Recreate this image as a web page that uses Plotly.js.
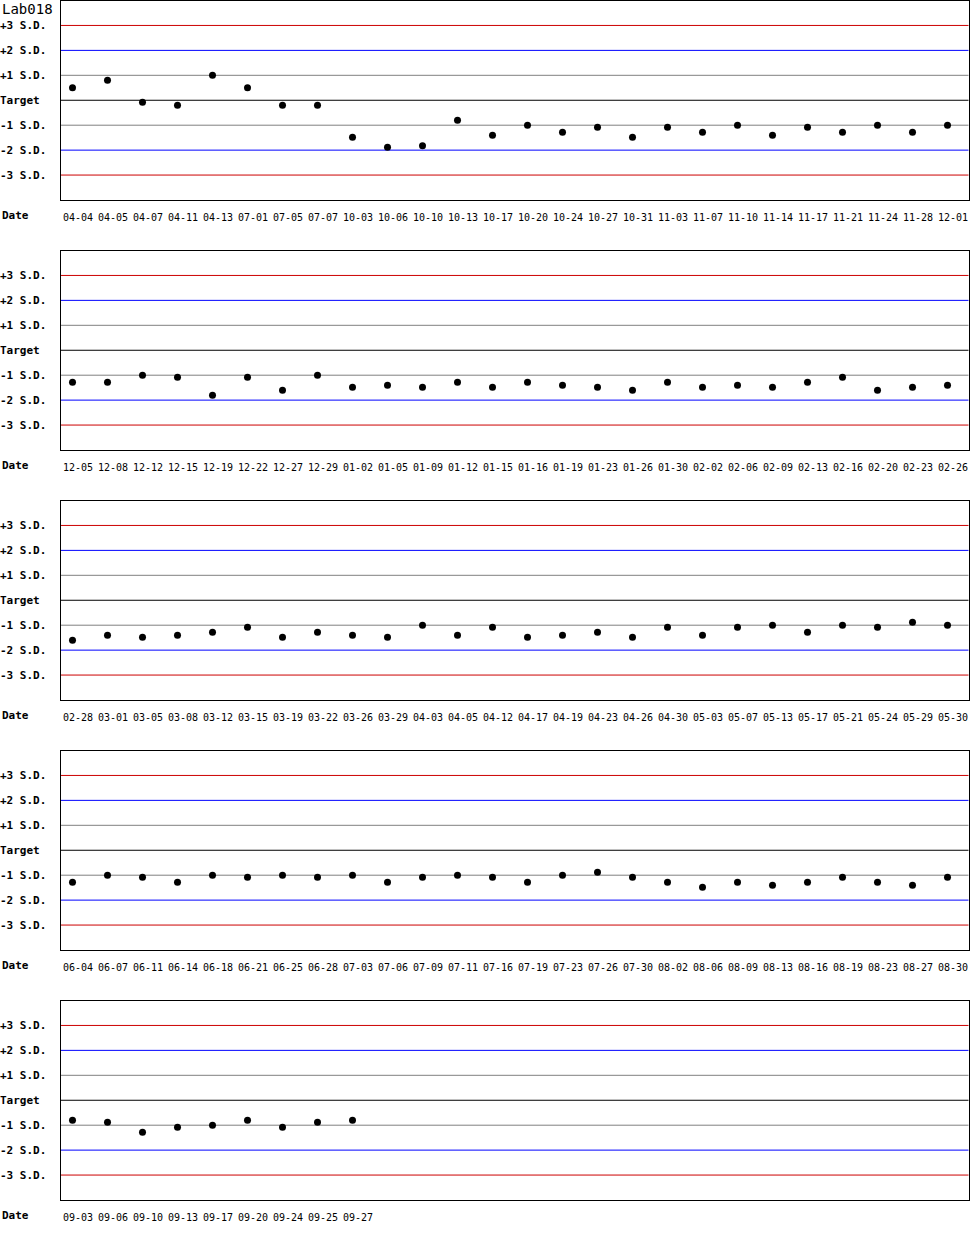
<!DOCTYPE html>
<html>
<head>
<meta charset="utf-8">
<script src="https://cdn.plot.ly/plotly-3.0.1.min.js"></script>
<style>
  body { margin: 0; background: #fff; }
  #chart { width: 970px; height: 1250px; }
</style>
</head>
<body>
<div id="chart"></div>
<script>
// values, in S.D. units from target
let p1Dates = ['04-04','04-05','04-07','04-11','04-13','07-01','07-05','07-07','10-03','10-06','10-10','10-13','10-17','10-20','10-24','10-27','10-31','11-03','11-07','11-10','11-14','11-17','11-21','11-24','11-28','12-01'];
let p1Values = [0.5, 0.8, -0.08, -0.2, 1.0, 0.5, -0.2, -0.2, -1.48, -1.88, -1.82, -0.8, -1.4, -1.0, -1.28, -1.08, -1.48, -1.08, -1.28, -1.0, -1.4, -1.08, -1.28, -1.0, -1.28, -1.0];

let p2Dates = ['12-05','12-08','12-12','12-15','12-19','12-22','12-27','12-29','01-02','01-05','01-09','01-12','01-15','01-16','01-19','01-23','01-26','01-30','02-02','02-06','02-09','02-13','02-16','02-20','02-23','02-26'];
let p2Values = [-1.28, -1.28, -1.0, -1.08, -1.8, -1.08, -1.6, -1.0, -1.48, -1.4, -1.48, -1.28, -1.48, -1.28, -1.4, -1.48, -1.6, -1.28, -1.48, -1.4, -1.48, -1.28, -1.08, -1.6, -1.48, -1.4];

let p3Dates = ['02-28','03-01','03-05','03-08','03-12','03-15','03-19','03-22','03-26','03-29','04-03','04-05','04-12','04-17','04-19','04-23','04-26','04-30','05-03','05-07','05-13','05-17','05-21','05-24','05-29','05-30'];
let p3Values = [-1.6, -1.4, -1.48, -1.4, -1.28, -1.08, -1.48, -1.28, -1.4, -1.48, -1.0, -1.4, -1.08, -1.48, -1.4, -1.28, -1.48, -1.08, -1.4, -1.08, -1.0, -1.28, -1.0, -1.08, -0.88, -1.0];

let p4Dates = ['06-04','06-07','06-11','06-14','06-18','06-21','06-25','06-28','07-03','07-06','07-09','07-11','07-16','07-19','07-23','07-26','07-30','08-02','08-06','08-09','08-13','08-16','08-19','08-23','08-27','08-30'];
let p4Values = [-1.28, -1.0, -1.08, -1.28, -1.0, -1.08, -1.0, -1.08, -1.0, -1.28, -1.08, -1.0, -1.08, -1.28, -1.0, -0.88, -1.08, -1.28, -1.48, -1.28, -1.4, -1.28, -1.08, -1.28, -1.4, -1.08];

let p5Dates = ['09-03','09-06','09-10','09-13','09-17','09-20','09-24','09-25','09-27'];
let p5Values = [-0.8, -0.88, -1.28, -1.08, -1.0, -0.8, -1.08, -0.88, -0.8];

let sdLevels = [3, 2, 1, 0, -1, -2, -3];
let sdLabels = ['+3 S.D.', '+2 S.D.', '+1 S.D.', 'Target\u00a0', '-1 S.D.', '-2 S.D.', '-3 S.D.'];
let sdColors = ['#cc0000', '#0000ff', '#808080', '#000000', '#808080', '#0000ff', '#cc0000'];

let chartTitle = 'Lab018';

let panels = [
  {dates: p1Dates, values: p1Values},
  {dates: p2Dates, values: p2Values},
  {dates: p3Dates, values: p3Values},
  {dates: p4Dates, values: p4Values},
  {dates: p5Dates, values: p5Values}
];

const mono = 'DejaVu Sans Mono, Liberation Mono, monospace';
const W = 970, H = 1250;

let data = [];
let layout = {
  width: W,
  height: H,
  margin: {l: 0, r: 0, t: 0, b: 0},
  paper_bgcolor: '#fff',
  plot_bgcolor: '#fff',
  showlegend: false,
  shapes: [],
  annotations: [{
    text: chartTitle,
    xref: 'paper', yref: 'paper', x: 0, y: 1,
    xanchor: 'left', yanchor: 'top', yshift: 1,
    showarrow: false,
    font: {family: mono, size: 14, color: '#000'}
  }]
};

panels.forEach(function (p, k) {
  let n = k + 1;
  let xName = 'x' + (n > 1 ? n : '');
  let yName = 'y' + (n > 1 ? n : '');
  let idx = p.dates.map((d, i) => i);

  data.push({
    x: idx,
    y: p.values,
    xaxis: xName,
    yaxis: yName,
    type: 'scatter',
    mode: 'markers',
    marker: {color: '#000', size: 7},
    hoverinfo: 'skip'
  });

  let top = 250 * k, bottom = 250 * k + 200;

  layout['xaxis' + (n > 1 ? n : '')] = {
    domain: [60.5 / W, 968.5 / W],
    anchor: yName,
    range: [-12 / 35, 896 / 35],
    tickvals: idx.map(i => i + 0.157),
    ticktext: p.dates,
    tickfont: {family: mono, size: 10, color: '#000'},
    ticks: '',
    ticklabelstandoff: 8,
    showgrid: false,
    zeroline: false,
    showline: true,
    mirror: true,
    linecolor: '#000',
    linewidth: 1,
    fixedrange: true
  };

  layout['yaxis' + (n > 1 ? n : '')] = {
    domain: [1 - bottom / H, 1 - (top + 0.5) / H],
    anchor: xName,
    range: [-4, 4],
    tickvals: sdLevels,
    ticktext: sdLabels,
    tickfont: {family: mono, size: 11, color: '#000', weight: 'bold'},
    ticks: '',
    ticklabelstandoff: 11,
    showgrid: false,
    zeroline: false,
    showline: true,
    mirror: true,
    linecolor: '#000',
    linewidth: 1,
    fixedrange: true
  };

  // control limit lines
  sdLevels.forEach(function (lvl, j) {
    layout.shapes.push({
      type: 'line',
      xref: xName + ' domain', yref: yName,
      x0: 0, x1: 1, y0: lvl, y1: lvl,
      line: {color: sdColors[j], width: 1},
      layer: 'below'
    });
  });

  layout.annotations.push({
    text: '<b>Date</b>',
    xref: 'paper', yref: yName + ' domain', x: 0, y: 0,
    xanchor: 'left', yanchor: 'middle', yshift: -15,
    showarrow: false,
    font: {family: mono, size: 11, color: '#000'}
  });
});

Plotly.newPlot('chart', data, layout, {staticPlot: true, displayModeBar: false});
</script>
</body>
</html>
